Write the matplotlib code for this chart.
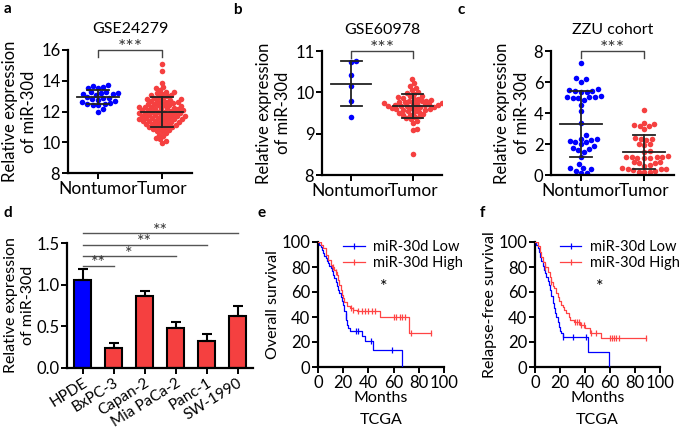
import numpy as np
import matplotlib
matplotlib.use("Agg")
import matplotlib.pyplot as plt
from matplotlib.lines import Line2D

plt.rcParams['font.family'] = ['Lato', 'DejaVu Sans']

BLUE = '#0000ff'
RED = '#f54040'

# ---- data ----
groups = ['Nontumor', 'Tumor']

gse24279_normal = [13.7, 13.68, 13.62, 13.55, 13.5, 13.3, 13.25, 13.2, 13.18, 13.15, 13.12, 13.1,
                   12.95, 12.9, 12.85, 12.8, 12.78, 12.7, 12.62, 12.55, 12.5, 12.48, 12.45, 12.42,
                   12.15, 12.0]
gse24279_tumor = [15.1, 14.65, 13.85, 13.6, 13.5, 13.4, 13.3, 13.25, 13.2, 13.15, 13.1, 13.05, 13.0,
                  12.95, 12.9, 12.85, 12.8, 12.8, 12.75, 12.7, 12.7, 12.65, 12.6, 12.6, 12.55, 12.5,
                  12.5, 12.45, 12.4, 12.4, 12.35, 12.3, 12.3, 12.28, 12.25, 12.2, 12.2, 12.18, 12.15,
                  12.1, 12.1, 12.08, 12.05, 12.0, 12.0, 11.98, 11.95, 11.9, 11.9, 11.88, 11.85, 11.8,
                  11.8, 11.78, 11.75, 11.7, 11.7, 11.68, 11.65, 11.6, 11.6, 11.58, 11.55, 11.5, 11.5,
                  11.48, 11.45, 11.4, 11.4, 11.38, 11.35, 11.3, 11.3, 11.25, 11.2, 11.2, 11.15, 11.1,
                  11.1, 11.05, 11.0, 11.0, 10.95, 10.9, 10.85, 10.8, 10.75, 10.7, 10.6, 10.5, 10.4,
                  10.3, 10.2, 10.1, 9.95]

gse60978_normal = [10.75, 10.74, 10.43, 10.15, 9.78, 9.40]
gse60978_tumor = [10.32, 10.22, 10.15, 10.1, 10.05, 10.0, 9.98, 9.95, 9.92, 9.9, 9.88, 9.86, 9.85,
                  9.83, 9.82, 9.8, 9.79, 9.78, 9.77, 9.76, 9.75, 9.74, 9.73, 9.72, 9.71, 9.7, 9.7,
                  9.69, 9.68, 9.67, 9.66, 9.65, 9.64, 9.63, 9.62, 9.61, 9.6, 9.59, 9.58, 9.57, 9.55,
                  9.53, 9.52, 9.5, 9.48, 9.46, 9.44, 9.42, 9.4, 9.38, 9.35, 9.3, 9.25, 9.12, 9.08, 8.5]

zzu_normal = [7.24, 6.25, 6.2, 6.0, 5.55, 5.5, 5.45, 5.4, 5.36, 5.34, 5.08, 5.05, 5.04, 5.02, 5.0,
              4.98, 4.86, 4.54, 4.1, 3.35, 2.55, 2.35, 2.3, 2.28, 2.2, 2.12, 2.1, 1.97, 1.84, 1.72,
              1.68, 1.62, 1.51, 1.19, 0.71, 0.45, 0.42, 0.38, 0.28, 0.13, 0.1]
zzu_tumor = [4.22, 3.35, 3.3, 3.2, 3.18, 3.15, 2.98, 2.4, 2.35, 2.3, 2.28, 2.0, 1.97, 1.95, 1.55,
             1.5, 1.2, 1.18, 1.16, 1.15, 1.14, 1.12, 1.1, 1.08, 0.85, 0.82, 0.8, 0.78, 0.62, 0.6,
             0.42, 0.4, 0.38, 0.36, 0.35, 0.25, 0.22, 0.2, 0.18]

cell_lines = ['HPDE', 'BxPC-3', 'Capan-2', 'Mia PaCa-2', 'Panc-1', 'SW-1990']
cell_mean = [1.06, 0.24, 0.86, 0.48, 0.32, 0.62]
cell_sem = [0.13, 0.06, 0.07, 0.07, 0.09, 0.12]
cell_sig = [(1, '**', 1.23), (3, '*', 1.34), (4, '**', 1.48), (5, '**', 1.62)]

# overall survival (TCGA), step points
os_low_t = [0, 1, 2, 3, 4, 5, 6, 7, 8, 9, 10, 11, 12, 13, 14, 15, 16, 17, 18, 19, 20, 21, 22, 22.5,
            23, 24, 25, 35, 37, 44, 67]
os_low_s = [100, 98, 96, 94, 91, 89, 87, 85, 83, 81, 79, 77, 74, 71, 68, 65, 62, 59, 56, 53, 50,
            45, 41, 38, 34, 31, 29, 25, 21, 14, 0]
os_low_cens = [22.4, 30.5, 31.5, 42, 59]
os_high_t = [0, 2, 4, 6, 8, 10, 11, 13, 14, 15, 16, 17, 18, 19, 20, 21, 23, 25, 28, 31, 49, 72, 90]
os_high_s = [100, 98, 95, 90, 86, 82, 80, 78, 76, 74, 70, 66, 62, 58, 55, 52, 49, 47, 46, 45, 40,
             27, 27]
os_high_cens = [12, 14.5, 26, 28, 32, 35, 37.4, 40, 42.6, 45, 60, 62, 65, 67, 69, 74, 90]

# relapse-free survival (TCGA)
rfs_low_t = [0, 1, 2, 3, 4, 5, 6, 7, 8, 9, 10, 11, 12, 13, 14, 15, 16, 17, 18, 19, 20, 21, 22, 42, 59]
rfs_low_s = [100, 98, 95, 92, 88, 85, 81, 78, 75, 72, 69, 66, 62, 57, 51, 47, 43, 40, 36, 32, 29,
             27, 24, 12, 0]
rfs_low_cens = [22.5, 30.7, 40.5]
rfs_high_t = [0, 2, 4, 5, 6, 8, 10, 12, 13, 14, 15, 17, 18, 19, 21, 22, 23, 25, 27, 28, 31, 36, 40,
              44, 53, 89]
rfs_high_s = [100, 97, 92, 88, 84, 80, 76, 72, 68, 65, 63, 59, 56, 53, 50, 48, 46, 43, 40, 38, 36,
              34, 31, 27, 23, 23]
rfs_high_cens = [8, 13, 32, 33.5, 35, 37, 39, 45, 49, 60, 61.5, 63, 65, 67, 89]

# ---- layout helpers ----
W, H = 685, 429
fig = plt.figure(figsize=(W / 100, H / 100), dpi=100)


def add_ax(x0, x1, ytop, ybot):
    return fig.add_axes([x0 / W, 1 - ybot / H, (x1 - x0) / W, (ybot - ytop) / H])


def style(ax):
    for s in ['top', 'right']:
        ax.spines[s].set_visible(False)
    for s in ['left', 'bottom']:
        ax.spines[s].set_linewidth(1.6)
    ax.tick_params(width=1.4, length=4, labelsize=12, direction='out', pad=1.5)


def swarm(vals, d, sx, sy):
    xs = np.zeros(len(vals))
    placed = []
    for i in np.argsort(vals):
        y = vals[i] * sy
        cands = [0.0]
        for px, py in placed:
            dy = abs(py - y)
            if dy < d:
                dx = np.sqrt(d * d - dy * dy)
                cands += [px + dx, px - dx]
        cands.sort(key=abs)
        for c in cands:
            if all((c - px) ** 2 + (y - py) ** 2 >= d * d - 1e-6 for px, py in placed):
                break
        placed.append((c, y))
        xs[i] = c / sx
    return xs


def scatter_panel(box, data, spacing, ylim, yticks, title, letter, lpos):
    ax = add_ax(*box)
    style(ax)
    xlim = (-0.47, 1.47)
    ax.set_xlim(*xlim)
    ax.set_ylim(*ylim)
    sx = (box[1] - box[0]) / (xlim[1] - xlim[0])
    sy = (box[3] - box[2]) / (ylim[1] - ylim[0])
    for k, (vals, col, d) in enumerate(zip(data, [BLUE, RED], spacing)):
        vals = np.array(vals)
        xs = swarm(vals, d, sx, sy)
        ax.scatter(k + xs, vals, s=16, color=col, linewidths=0, zorder=2)
        m, sd = vals.mean(), vals.std(ddof=1)
        ax.plot([k - 0.33, k + 0.33], [m, m], color='#222222', lw=1.3, zorder=3)
        ax.plot([k, k], [m - sd, m + sd], color='#222222', lw=1.3, zorder=3)
        for v in (m - sd, m + sd):
            ax.plot([k - 0.17, k + 0.17], [v, v], color='#222222', lw=1.3, zorder=3)
    top = ylim[1]
    leg = (ylim[1] - ylim[0]) * 0.06
    ax.plot([0, 0, 1, 1], [top - leg, top, top, top - leg], color='#444444', lw=1, clip_on=False)
    ax.text(0.5, top - (ylim[1] - ylim[0]) * 0.045, '***', ha='center', va='bottom', fontsize=14,
            color='#333333')
    ax.set_xticks([0, 1])
    ax.set_xticklabels(groups, fontsize=12.5)
    ax.set_yticks(yticks)
    ax.set_ylabel('Relative expression\nof miR-30d', fontsize=12, labelpad=3, linespacing=1.25)
    ax.set_title(title, fontsize=11.5, pad=12)
    fig.text(lpos[0] / W, 1 - lpos[1] / H, letter, fontsize=11, fontweight='bold', va='center')
    return ax


scatter_panel((68, 192, 50, 173), [gse24279_normal, gse24279_tumor], (5.4, 4.3), (8, 16),
              [8, 10, 12, 14, 16], 'GSE24279', 'a', (4, 9))
scatter_panel((322, 442, 51, 175), [gse60978_normal, gse60978_tumor], (5.4, 4.6), (8, 11),
              [8, 9, 10, 11], 'GSE60978', 'b', (233, 10))
scatter_panel((551, 674, 51, 175), [zzu_normal, zzu_tumor], (5.8, 5.6), (0, 8),
              [0, 2, 4, 6, 8], 'ZZU cohort', 'c', (458, 10))

# ---- panel d ----
ax = add_ax(67, 253, 243, 368)
style(ax)
x = np.arange(len(cell_lines))
ax.bar(x, cell_mean, width=0.58, color=[BLUE] + [RED] * 5, edgecolor='black', linewidth=1.5,
       yerr=[[0] * 6, cell_sem], error_kw=dict(ecolor='black', elinewidth=1.5, capsize=3.6,
                                              capthick=1.5), zorder=2)
ax.set_xlim(-0.5, 5.5)
ax.set_ylim(0, 1.5)
ax.set_yticks([0, 0.5, 1.0, 1.5])
ax.set_yticklabels(['0.0', '0.5', '1.0', '1.5'])
ax.set_xticks(x)
ax.set_xticklabels(cell_lines, rotation=32, ha='right', rotation_mode='anchor', fontsize=11)
ax.set_ylabel('Relative expression\nof miR-30d', fontsize=11.5, labelpad=1, linespacing=1.25)
for j, star, yv in cell_sig:
    ax.plot([0, j], [yv, yv], color='#555555', lw=1, clip_on=False)
    ax.text(j / 2, yv - 0.07, star, ha='center', va='bottom', fontsize=13, color='#333333')
fig.text(4 / W, 1 - 213 / H, 'd', fontsize=11, fontweight='bold', va='center')


# ---- survival panels ----
def surv_at(t_list, s_list, tc):
    idx = np.searchsorted(t_list, tc, side='right') - 1
    return s_list[idx]


def km_panel(box, low, high, ylab, letter, lpos):
    ax = add_ax(*box)
    style(ax)
    for (t, s, c), col in zip([low, high], [BLUE, '#ff4444']):
        ax.step(t, s, where='post', color=col, lw=0.9, zorder=3)
        ax.plot(c, [surv_at(t, s, v) for v in c], ls='none', marker='|', ms=5, mew=0.9,
                color=col, zorder=3)
    ax.set_xlim(0, 100)
    ax.set_ylim(0, 100)
    ax.set_xticks([0, 20, 40, 60, 80, 100])
    ax.set_yticks([0, 20, 40, 60, 80, 100])
    ax.set_xlabel('Months', fontsize=11.5, labelpad=0.5)
    cx = (box[0] + box[1]) / 2
    fig.text(cx / W, 1 - 420 / H, 'TCGA', fontsize=11.5, ha='center', va='center')
    ax.set_ylabel(ylab, fontsize=11.5, labelpad=1)
    handles = [Line2D([], [], color=BLUE, lw=0.9, marker='|', ms=5, mew=0.9),
               Line2D([], [], color='#ff4444', lw=0.9, marker='|', ms=5, mew=0.9)]
    ax.legend(handles, ['miR-30d Low', 'miR-30d High'], loc='upper left', bbox_to_anchor=(0.15, 1.06),
              frameon=False, fontsize=10.5, numpoints=1, handlelength=1.5, handletextpad=0.6,
              labelspacing=0.1, borderaxespad=0)
    ax.text(0.52, 0.6, '*', transform=ax.transAxes, fontsize=13, ha='center')
    fig.text(lpos[0] / W, 1 - lpos[1] / H, letter, fontsize=11, fontweight='bold', va='center')


km_panel((318, 444, 242, 367), (os_low_t, os_low_s, os_low_cens),
         (os_high_t, os_high_s, os_high_cens), 'Overall survival', 'e', (258, 213))
km_panel((535, 660, 242, 367), (rfs_low_t, rfs_low_s, rfs_low_cens),
         (rfs_high_t, rfs_high_s, rfs_high_cens), 'Relapse-free survival', 'f', (480, 213))

fig.savefig('out.png', dpi=100)
